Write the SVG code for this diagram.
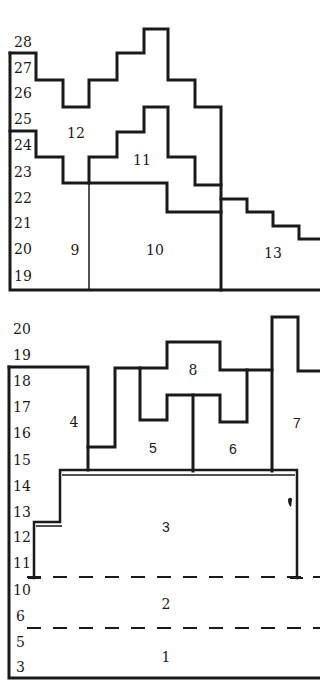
<svg xmlns="http://www.w3.org/2000/svg" width="320" height="681" viewBox="0 0 320 681">
<style>
.k{fill:none;stroke:#1a1a1a;stroke-width:3;stroke-linejoin:miter;stroke-linecap:square}
.t{fill:none;stroke:#1a1a1a;stroke-width:1.5}
.d{fill:none;stroke:#1a1a1a;stroke-width:2;stroke-dasharray:14 12}
.s{font-family:"DejaVu Serif","Liberation Serif",serif;font-size:14px;fill:#1a1a1a}
.n{font-family:"Liberation Sans",Arial,sans-serif;font-size:14px;fill:#1a1a1a}
.m{text-anchor:middle}
</style>
<rect width="320" height="681" fill="#fff"/>
<g id="upper">
<path class="k" d="M10,53 V290 H320"/>
<path class="k" d="M10,53 H36 V80 H63 V107 H89 V80 H117 V53 H144 V29 H168 V80 H195 V107 H221 V290"/>
<path class="k" d="M10,131 H36 V157 H63 V183 H167 V212 H221"/>
<path class="k" d="M89,183 V157 H117 V132 H144 V107 H168 V157 H195 V185 H221"/>
<path class="t" d="M89,183 V290"/>
<path class="k" d="M221,199 H247 V212 H273 V226 H299 V239 H322"/>
</g>
<g id="upper-labels">
<text class="s" x="14" y="47">28</text>
<text class="s" x="14" y="73">27</text>
<text class="s" x="14" y="98">26</text>
<text class="s" x="14" y="124">25</text>
<text class="s" x="14" y="150">24</text>
<text class="s" x="14" y="177">23</text>
<text class="s" x="14" y="203">22</text>
<text class="s" x="14" y="228">21</text>
<text class="s" x="14" y="254">20</text>
<text class="s" x="14" y="281">19</text>
<text class="s m" x="76" y="138">12</text>
<text class="s m" x="142" y="165">11</text>
<text class="s m" x="75" y="255">9</text>
<text class="s m" x="155" y="255">10</text>
<text class="s m" x="273" y="258">13</text>
</g>
<g id="lower">
<path class="k" d="M9,367 V678 H322"/>
<path class="k" d="M9,367 H88 V470"/>
<path class="k" d="M88,447 H115 V368 H167 V342 H220 V370 H272"/>
<path class="k" d="M140,368 V420 H167 V395 H220 V422 H247 V370"/>
<path class="k" d="M193,395 V471"/>
<path class="k" d="M272,471 V317 H298 V371 H322"/>
<path class="k" style="stroke-width:2.5" d="M34,578 V522 H60 V470 H297 V578"/>
<path class="t" d="M36,526 H62 M62,475 H295"/>
<path class="k" style="stroke-width:2" d="M29,578 H40 M291,578 H302"/>
<path d="M288,499 Q292,496 292,500 L291,507 Q288,505 288,499 Z" fill="#1a1a1a"/>
<path class="d" d="M27,577 H322"/>
<path class="d" d="M27,628 H322"/>
</g>
<g id="lower-labels">
<text class="s" x="13" y="334">20</text>
<text class="s" x="13" y="360">19</text>
<text class="s" x="13" y="386">18</text>
<text class="s" x="13" y="412">17</text>
<text class="s" x="13" y="438">16</text>
<text class="s" x="13" y="465">15</text>
<text class="s" x="13" y="491">14</text>
<text class="s" x="13" y="517">13</text>
<text class="s" x="13" y="542">12</text>
<text class="s" x="13" y="568">11</text>
<text class="s" x="13" y="595">10</text>
<text class="s" x="16" y="621">6</text>
<text class="s" x="16" y="647">5</text>
<text class="s" x="16" y="672">3</text>
<text class="s m" x="74" y="427">4</text>
<text class="s m" x="193" y="375">8</text>
<text class="n m" x="153" y="453">5</text>
<text class="n m" x="233" y="454">6</text>
<text class="n m" x="297" y="428">7</text>
<text class="n m" x="166" y="532">3</text>
<text class="s m" x="166" y="609">2</text>
<text class="s m" x="166" y="662">1</text>
</g>
</svg>
